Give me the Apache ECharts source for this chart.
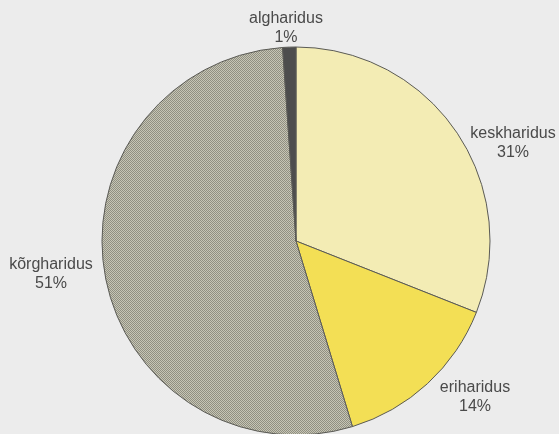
<!DOCTYPE html>
<html lang="et">
<head>
    <meta charset="UTF-8">
    <title>Haridus</title>
    <script src="https://cdn.jsdelivr.net/npm/echarts@6/dist/echarts.min.js"></script>
    <style>
        html, body { margin: 0; padding: 0; background: #ececec; }
        #main { width: 559px; height: 434px; }
    </style>
</head>
<body>
<div id="main"></div>
<script>
    // slices clockwise from 12 o'clock
    const levels = ['keskharidus', 'eriharidus', 'kõrgharidus', 'algharidus'];
    // slice sizes measured from the angles in the picture
    const shares = [31, 14.3, 53.6, 1.1];
    // percentages as printed on the chart
    const printed = ['31%', '14%', '51%', '1%'];

    // fine checker fill for the grey slice
    function checker() {
        const c = document.createElement('canvas');
        c.width = 2; c.height = 2;
        const g = c.getContext('2d');
        g.fillStyle = '#c6c5b5';
        g.fillRect(0, 0, 2, 2);
        g.fillStyle = '#908f81';
        g.fillRect(0, 0, 1, 1);
        g.fillRect(1, 1, 1, 1);
        return c;
    }

    const colors = ['#f3ecb4', '#f3df55', {image: checker(), repeat: 'repeat'}, '#4d4d4d'];
    // label centres (px)
    const labelSpots = [[513, 143], [475, 397], [51, 274], [286, 28]];

    let myChart = echarts.init(document.getElementById('main'));
    let option = {
        animation: false,
        series: [{
            type: 'pie',
            center: [296, 241],
            radius: 194,
            startAngle: 90,
            clockwise: true,
            data: levels.map(function (name, i) {
                return {
                    name: name,
                    value: shares[i],
                    itemStyle: {color: colors[i]}
                };
            }),
            itemStyle: {
                borderColor: '#5a5a55',
                borderWidth: 1
            },
            label: {
                show: true,
                position: 'outside',
                formatter: function (p) {
                    return p.name + '\n' + printed[p.dataIndex];
                },
                overflow: 'none',
                fontFamily: 'Liberation Sans, Arial, sans-serif',
                fontSize: 16,
                lineHeight: 19,
                color: '#4a4a4a',
                align: 'center'
            },
            labelLine: {show: false},
            labelLayout: function (params) {
                const s = labelSpots[params.dataIndex];
                return {
                    x: s[0],
                    y: s[1],
                    align: 'center',
                    verticalAlign: 'middle'
                };
            },
            emphasis: {disabled: true}
        }]
    };
    myChart.setOption(option);
</script>
</body>
</html>
